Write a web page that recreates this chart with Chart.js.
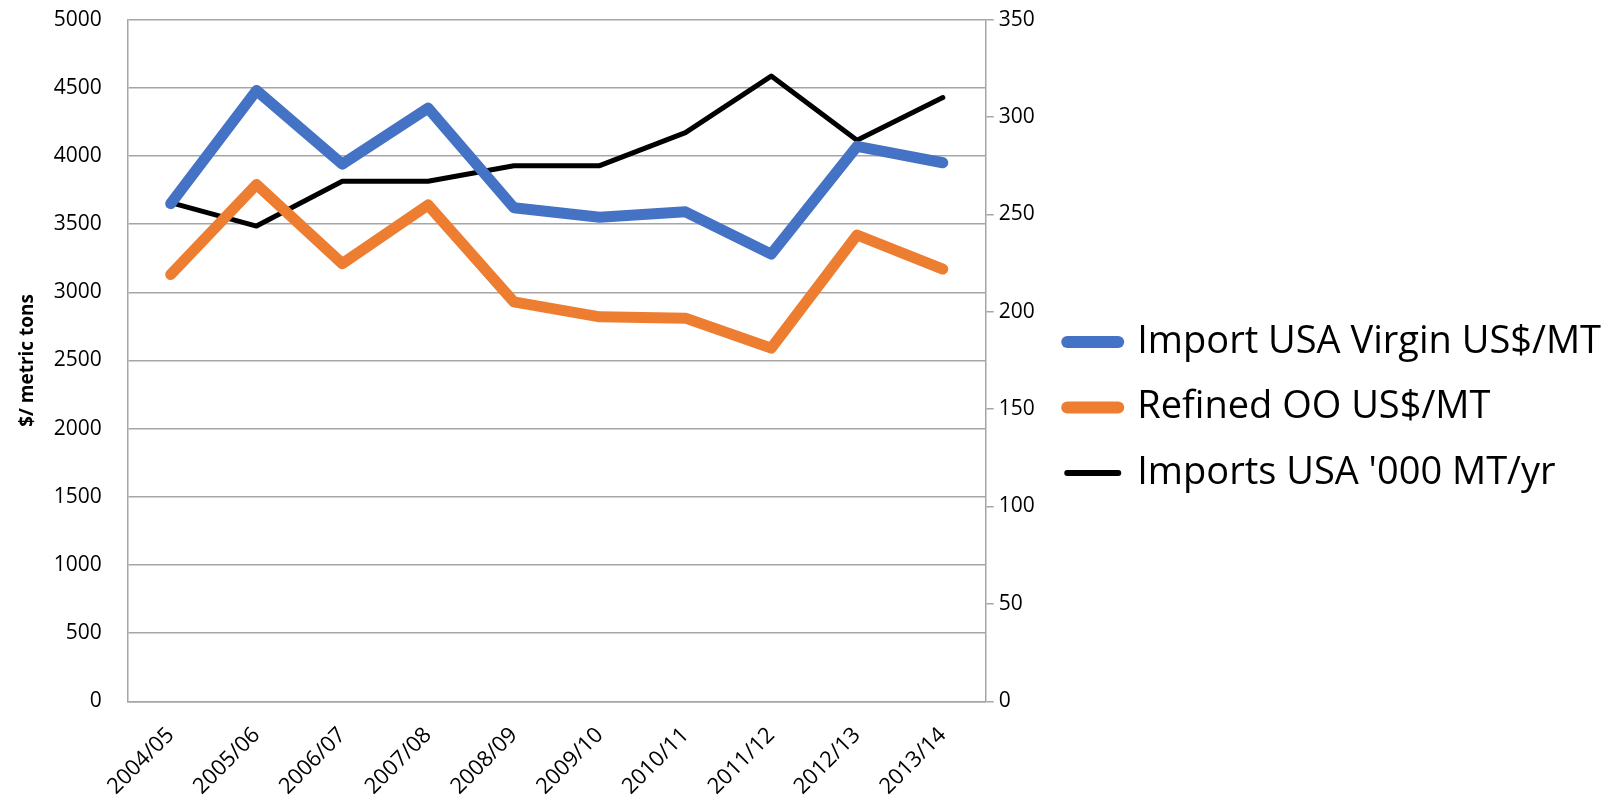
<!DOCTYPE html>
<html>
<head>
<meta charset="utf-8">
<title>Olive oil imports USA</title>
<script src="https://cdn.jsdelivr.net/npm/chart.js@4.4.1/dist/chart.umd.min.js"></script>
<style>
  html, body { margin: 0; padding: 0; background: #fff; }
  #wrap { width: 1604px; height: 800px; }
</style>
</head>
<body>
<div id="wrap"><canvas id="oliveChart" width="1604" height="800"></canvas></div>
<script>
const anos = ['2004/05','2005/06','2006/07','2007/08','2008/09','2009/10','2010/11','2011/12','2012/13','2013/14'];
const virgemUSA = [3650, 4480, 3940, 4350, 3620, 3550, 3590, 3280, 4070, 3950];
const refinado = [3130, 3790, 3210, 3640, 2930, 2820, 2810, 2590, 3420, 3170];
const importacoes = [256, 244, 267, 267, 275, 275, 292, 321, 288, 310];
const nomes = ['Import USA Virgin US$/MT', 'Refined OO US$/MT', "Imports USA '000 MT/yr"];

const cinza = '#a6a6a6';
const fonte = "'Open Sans', sans-serif";

document.addEventListener('DOMContentLoaded', function () {
  const ctx = document.getElementById('oliveChart');
  if (!ctx) return;

  new Chart(ctx, {
    type: 'line',
    data: {
      labels: anos,
      datasets: [{
        label: nomes[0],
        data: virgemUSA,
        borderColor: '#4472C4',
        backgroundColor: '#4472C4',
        borderWidth: 11,
        borderCapStyle: 'round',
        borderJoinStyle: 'round',
        pointRadius: 0,
        yAxisID: 'y'
      },
      {
        label: nomes[1],
        data: refinado,
        borderColor: '#ED7D31',
        backgroundColor: '#ED7D31',
        borderWidth: 11,
        borderCapStyle: 'round',
        borderJoinStyle: 'round',
        pointRadius: 0,
        yAxisID: 'y'
      },
      {
        label: nomes[2],
        data: importacoes,
        borderColor: '#000000',
        backgroundColor: '#000000',
        borderWidth: 5,
        borderCapStyle: 'round',
        borderJoinStyle: 'round',
        pointRadius: 0,
        yAxisID: 'y1'
      }]
    },
    options: {
      responsive: false,
      animation: false,
      layout: {
        // legend sits tight against the right edge like the original
        padding: { top: 2, left: 6, right: -7, bottom: -13 }
      },
      plugins: {
        title: { display: false },
        tooltip: { enabled: false },
        legend: {
          display: true,
          position: 'right',
          align: 'center',
          maxWidth: 800,
          labels: {
            usePointStyle: true,
            pointStyle: 'line',
            pointStyleWidth: 51,
            padding: 27.5,
            color: '#000',
            font: { family: fonte, size: 38 },
            generateLabels: function (chart) {
              return chart.data.datasets.map((ds, i) => ({
                text: ds.label,
                strokeStyle: ds.borderColor,
                fillStyle: ds.borderColor,
                lineWidth: i === 2 ? 6 : 12,
                lineCap: 'round',
                pointStyle: 'line',
                hidden: false,
                datasetIndex: i
              }));
            }
          }
        }
      },
      scales: {
        x: {
          offset: true,
          grid: { display: false },
          border: { display: true, color: cinza, width: 1.5 },
          ticks: {
            color: '#000',
            font: { family: fonte, size: 22 },
            maxRotation: 45,
            minRotation: 45,
            padding: 13
          }
        },
        y: {
          position: 'left',
          min: 0,
          max: 5000,
          ticks: {
            stepSize: 500,
            color: '#000',
            font: { family: fonte, size: 21 },
            padding: 7,
            callback: v => String(v)
          },
          grid: { color: cinza, lineWidth: 1.5, tickLength: 19, tickColor: 'rgba(0,0,0,0)' },
          border: { display: true, color: cinza, width: 1.5 },
          title: {
            display: true,
            text: '$/ metric tons',
            color: '#000',
            font: { family: fonte, size: 19, weight: 'bold' },
            padding: { top: 10, bottom: 8 }
          }
        },
        y1: {
          position: 'right',
          min: 0,
          max: 350,
          ticks: {
            stepSize: 50,
            color: '#000',
            font: { family: fonte, size: 21 },
            padding: 5
          },
          grid: { drawOnChartArea: false, color: cinza, lineWidth: 1.5, tickLength: 8 },
          border: { display: true, color: cinza, width: 1.5 }
        }
      }
    }
  });
});
</script>
</body>
</html>
